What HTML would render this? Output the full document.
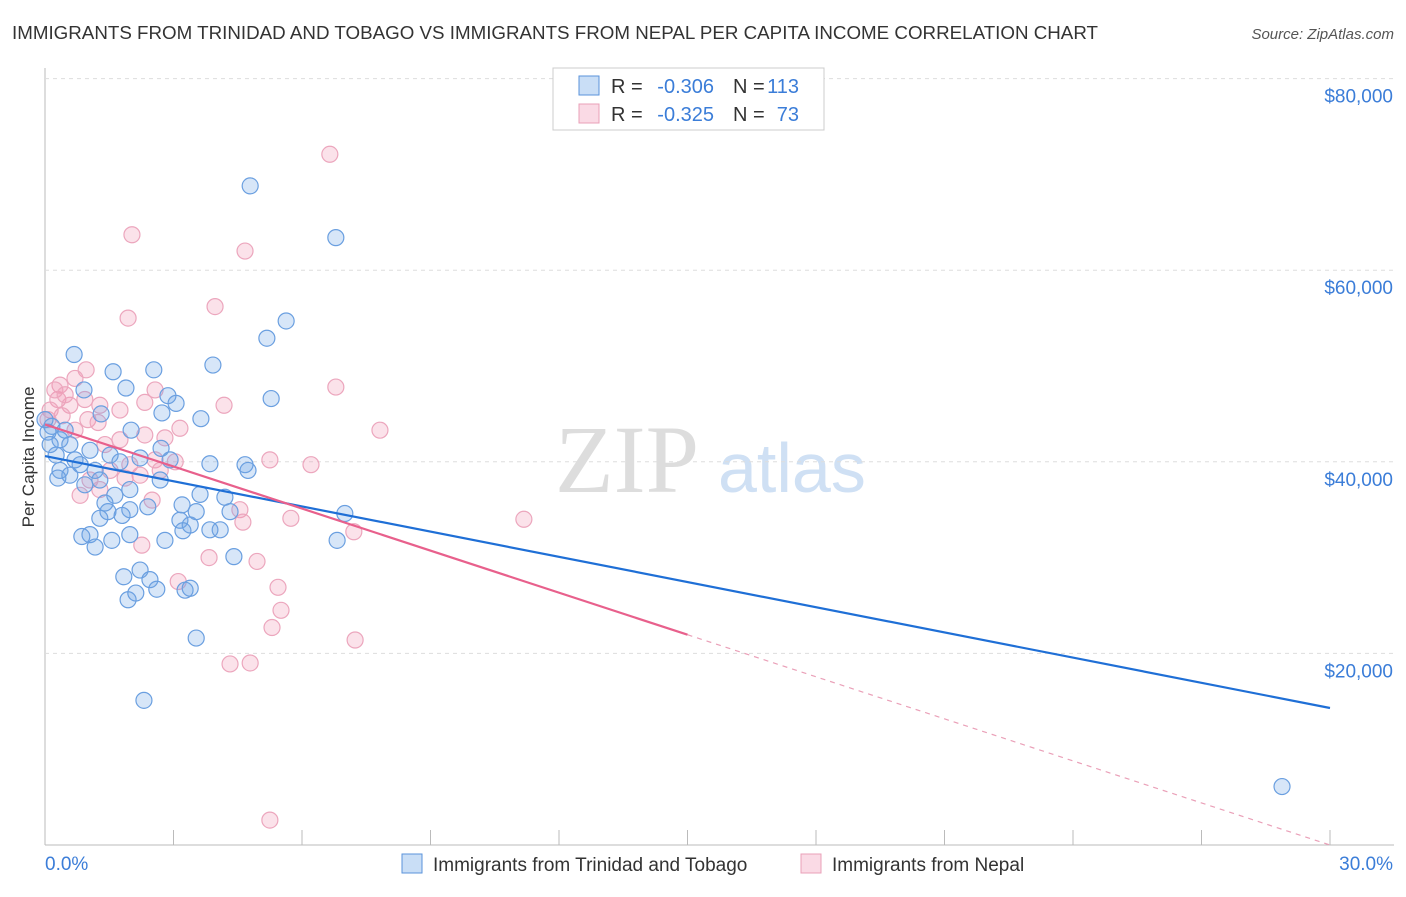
<!DOCTYPE html>
<html><head><meta charset="utf-8"><style>
body{margin:0;background:#fff;font-family:"Liberation Sans",sans-serif;}
</style></head><body>
<svg id="chart" width="1406" height="892" xmlns="http://www.w3.org/2000/svg" style="font-family:'Liberation Sans',sans-serif">
<text x="12" y="39" font-size="18" fill="#333" textLength="1086" lengthAdjust="spacingAndGlyphs">IMMIGRANTS FROM TRINIDAD AND TOBAGO VS IMMIGRANTS FROM NEPAL PER CAPITA INCOME CORRELATION CHART</text>
<text x="1394" y="39" font-size="15" fill="#555" text-anchor="end" font-style="italic">Source: ZipAtlas.com</text>
<text transform="translate(34,457) rotate(-90)" font-size="17" fill="#333" text-anchor="middle">Per Capita Income</text>
<g><text x="555" y="492" font-size="96" fill="#ddd" font-family="Liberation Serif,serif">ZIP</text><text x="718" y="492" font-size="70" fill="#cfe0f4">atlas</text></g>
<g id="grid"></g><g id="pts"></g><g id="lines"></g>
<g>
<rect x="553" y="68" width="271" height="62" fill="#fff" stroke="#ccc"/>
<rect x="579" y="76" width="20" height="19" fill="rgba(100,160,230,0.35)" stroke="#5a93db"/>
<rect x="579" y="104" width="20" height="19" fill="rgba(240,150,180,0.35)" stroke="#eaa0b8"/>
<text x="611" y="93" font-size="20" fill="#333">R =</text>
<text x="714" y="93" font-size="20" fill="#3b7dd8" text-anchor="end">-0.306</text>
<text x="733" y="93" font-size="20" fill="#333">N =</text>
<text x="799" y="93" font-size="20" fill="#3b7dd8" text-anchor="end">113</text>
<text x="611" y="121" font-size="20" fill="#333">R =</text>
<text x="714" y="121" font-size="20" fill="#3b7dd8" text-anchor="end">-0.325</text>
<text x="733" y="121" font-size="20" fill="#333">N =</text>
<text x="799" y="121" font-size="20" fill="#3b7dd8" text-anchor="end">73</text>
</g>
<g>
<rect x="402" y="854" width="20" height="19" fill="rgba(100,160,230,0.35)" stroke="#5a93db"/>
<text x="433" y="871" font-size="19" fill="#333">Immigrants from Trinidad and Tobago</text>
<rect x="801" y="854" width="20" height="19" fill="rgba(240,150,180,0.35)" stroke="#eaa0b8"/>
<text x="832" y="871" font-size="19" fill="#333">Immigrants from Nepal</text>
</g>
</svg>
<script>
const xTickLabels=["0.0%","30.0%"];
const yTicks=[20000,40000,60000,80000];
const yTickLabels=["$20,000","$40,000","$60,000","$80,000"];
const blueX=[4.79,6.79,5.63,5.18,0.68,3.92,2.54,1.59,1.89,0.91,5.28,3.06,2.73,3.64,2.87,1.31,2.01,2.71,0.16,0.35,0.58,0.26,0.07,1.05,1.52,2.22,2.92,3.85,4.67,4.74,0.82,1.17,1.75,0.35,0.58,1.28,1.98,0.93,1.63,2.69,3.62,4.20,3.20,2.40,1.98,1.47,1.28,1.80,3.15,3.39,4.32,7.00,3.22,3.53,1.05,1.56,1.98,2.80,4.09,6.82,0.86,1.17,1.84,2.22,2.45,2.61,3.27,4.41,3.39,1.94,2.12,3.53,2.31,28.88,0.0,0.12,0.47,0.70,0.30,1.40,3.85];
const blueY=[68.8,63.4,54.7,52.9,51.2,50.1,49.6,49.4,47.7,47.5,46.6,46.1,45.1,44.5,46.9,45.0,43.3,41.4,43.7,42.3,41.8,40.7,43.1,41.2,40.7,40.4,40.2,39.8,39.7,39.1,39.7,39.1,40.0,39.1,38.6,38.1,37.1,37.6,36.5,38.1,36.6,36.3,35.5,35.3,35.0,34.8,34.1,34.4,33.9,33.4,34.8,34.6,32.8,34.8,32.4,31.8,32.4,31.8,32.9,31.8,32.2,31.1,28.0,28.7,27.7,26.7,26.6,30.1,26.8,25.6,26.3,21.6,15.1,6.1,44.4,41.8,43.3,40.2,38.3,35.7,32.9];
const pinkX=[6.65,2.03,4.67,1.94,3.97,6.79,0.96,0.70,0.35,0.30,0.58,1.28,1.75,2.33,2.57,3.15,4.18,7.82,0.40,0.12,1.00,1.24,1.75,2.33,2.80,1.40,0.70,2.57,1.98,2.22,2.69,3.04,1.52,1.05,1.28,0.82,1.87,2.50,6.21,5.25,4.55,4.62,5.74,7.21,11.18,2.26,3.83,4.95,3.11,5.44,5.51,5.30,7.24,4.32,4.79,5.25,0.23,0.47,0.07,0.93];
const pinkY=[72.1,63.7,62.0,55.0,56.2,47.8,49.6,48.7,48.0,46.5,45.9,45.9,45.4,46.2,47.5,43.5,45.9,43.3,44.8,45.4,44.4,44.1,42.3,42.8,42.5,41.8,43.3,40.2,39.7,38.6,39.1,40.0,39.1,38.1,37.1,36.5,38.3,36.0,39.7,40.2,35.0,33.7,34.1,32.7,34.0,31.3,30.0,29.6,27.5,26.9,24.5,22.7,21.4,18.9,19.0,2.6,47.5,47.0,44.4,46.5];
const blueTrend=[40.6,14.3];
const pinkTrend=[43.9,0.0];
const pinkSolidEnd=15;

const NS="http://www.w3.org/2000/svg";
const sx=v=>45+v/30*1285;
const sy=v=>845-v/20*191.6;
function mk(tag,attrs,parent){const e=document.createElementNS(NS,tag);for(const k in attrs)e.setAttribute(k,attrs[k]);document.getElementById(parent).appendChild(e);return e;}
let ax=mk('line',{x1:45,y1:68,x2:45,y2:845,stroke:'#bbb'},'grid');


let bx=mk('line',{x1:45,y1:845,x2:1394,y2:845,stroke:'#bbb'},'grid');


for(let i=1;i<=10;i++){const t=mk('line',{x1:sx(i*3),y1:845,x2:sx(i*3),y2:830,stroke:'#bbb'},'grid');

}
yTicks.forEach((v,i)=>{const y=sy(v/1000);
const g=mk('line',{x1:45,y1:y,x2:1394,y2:y,stroke:'#ddd','stroke-dasharray':'4,4'},'grid');


const t=mk('text',{x:1393,y:y+24,'font-size':19,fill:'#3b7dd8','text-anchor':'end'},'grid');t.textContent=yTickLabels[i];

});
const xl0=mk('text',{x:45,y:870,'font-size':19,fill:'#3b7dd8'},'grid');xl0.textContent=xTickLabels[0];


const xl1=mk('text',{x:1393,y:870,'font-size':19,fill:'#3b7dd8','text-anchor':'end'},'grid');xl1.textContent=xTickLabels[1];


pinkX.forEach((x,i)=>{const c=mk('circle',{cx:sx(x),cy:sy(pinkY[i]),r:8,fill:'rgba(240,150,180,0.28)',stroke:'#eca6bd','stroke-width':1.2},'pts');

});
blueX.forEach((x,i)=>{const c=mk('circle',{cx:sx(x),cy:sy(blueY[i]),r:8,fill:'rgba(110,165,230,0.28)',stroke:'#6a9fe0','stroke-width':1.2},'pts');

});
const bl=mk('line',{x1:sx(0),y1:sy(blueTrend[0]),x2:sx(30),y2:sy(blueTrend[1]),stroke:'#1f6fd6','stroke-width':2.2},'lines');


const pv=x=>pinkTrend[0]+(pinkTrend[1]-pinkTrend[0])*x/30;
const pl=mk('line',{x1:sx(0),y1:sy(pv(0)),x2:sx(pinkSolidEnd),y2:sy(pv(pinkSolidEnd)),stroke:'#e8608c','stroke-width':2.2},'lines');


const pd=mk('line',{x1:sx(pinkSolidEnd),y1:sy(pv(pinkSolidEnd)),x2:sx(30),y2:sy(pv(30)),stroke:'#eaa0b8','stroke-width':1.2,'stroke-dasharray':'5,5'},'lines');


</script>
</body></html>
